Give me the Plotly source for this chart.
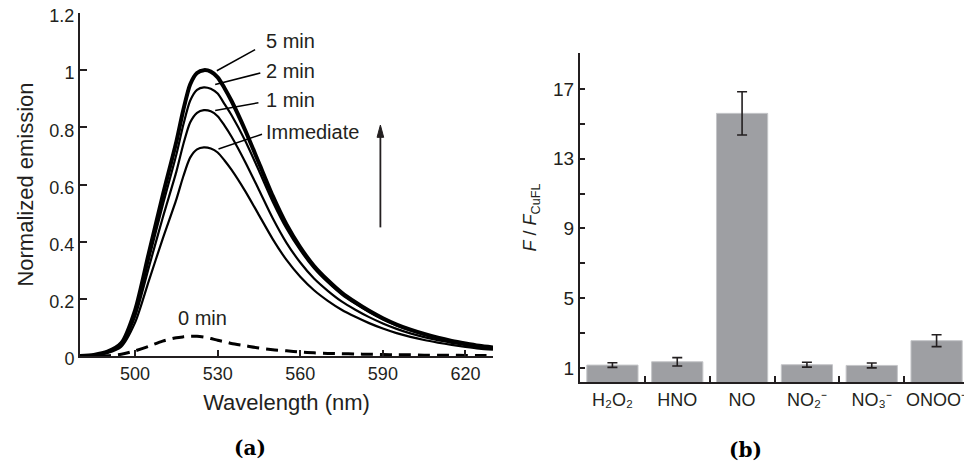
import plotly.graph_objects as go

# ---------------- data: panel (a) ----------------
wavelength = [480, 485, 490, 495, 500, 505, 510, 515, 517.5, 520, 522.5, 525, 527.5, 530, 532.5,
              535, 540, 545, 550, 555, 560, 565, 570, 575, 580, 585, 590, 595, 600, 605, 610,
              615, 620, 625, 630]
em_5min = [0.000, 0.004, 0.015, 0.045, 0.160, 0.360, 0.560, 0.750, 0.860, 0.950, 0.990, 1.000,
           0.995, 0.975, 0.937, 0.893, 0.790, 0.675, 0.560, 0.460, 0.380, 0.315, 0.265, 0.222,
           0.188, 0.158, 0.132, 0.110, 0.092, 0.077, 0.064, 0.053, 0.044, 0.036, 0.030]
em_2min = [0.000, 0.004, 0.014, 0.042, 0.150, 0.338, 0.526, 0.705, 0.808, 0.893, 0.931, 0.940,
           0.935, 0.918, 0.881, 0.843, 0.753, 0.648, 0.540, 0.446, 0.370, 0.307, 0.258, 0.216,
           0.183, 0.154, 0.128, 0.107, 0.089, 0.075, 0.062, 0.051, 0.042, 0.035, 0.029]
em_1min = [0.000, 0.003, 0.013, 0.039, 0.138, 0.310, 0.482, 0.645, 0.740, 0.817, 0.851, 0.860,
           0.856, 0.839, 0.806, 0.768, 0.679, 0.581, 0.482, 0.396, 0.327, 0.271, 0.228, 0.191,
           0.162, 0.136, 0.114, 0.095, 0.079, 0.066, 0.055, 0.046, 0.038, 0.031, 0.026]
em_immediate = [0.000, 0.003, 0.011, 0.033, 0.117, 0.263, 0.409, 0.548, 0.628, 0.694, 0.723, 0.730,
                0.726, 0.712, 0.684, 0.652, 0.577, 0.493, 0.409, 0.336, 0.277, 0.230, 0.193, 0.162,
                0.137, 0.115, 0.096, 0.080, 0.067, 0.056, 0.047, 0.039, 0.032, 0.026, 0.022]
em_0min = [0.000, 0.000, 0.001, 0.006, 0.018, 0.034, 0.052, 0.064, 0.067, 0.069, 0.069, 0.066,
           0.061, 0.055, 0.050, 0.044, 0.036, 0.028, 0.022, 0.018, 0.014, 0.011, 0.009, 0.008,
           0.007, 0.006, 0.005, 0.004, 0.004, 0.003, 0.003, 0.003, 0.002, 0.002, 0.002]
curve_labels = ["5 min", "2 min", "1 min", "Immediate"]
x_ticks_a = [500, 530, 560, 590, 620]
y_ticks_a = [0, 0.2, 0.4, 0.6, 0.8, 1.0, 1.2]
y_ticktext_a = ["0", "0.2", "0.4", "0.6", "0.8", "1", "1.2"]

# ---------------- data: panel (b) ----------------
analytes = ["H\u2082O\u2082", "HNO", "NO", "NO\u2082\u207b", "NO\u2083\u207b", "ONOO\u207b"]
ratio = [1.17, 1.36, 15.6, 1.19, 1.15, 2.57]
ratio_err = [0.13, 0.24, 1.24, 0.14, 0.14, 0.34]
y_ticks_b = [1, 5, 9, 13, 17]
y_minor_b = [3, 7, 11, 15]

INK = "#231f20"
FONT = "Liberation Sans, Arial, Helvetica, sans-serif"
OFF = 8  # default page body margin of the written html

# plot area in page pixels: x 80..969, y 13..382
PW, PH = 889, 369

fig = go.Figure()

for vals, w in [(em_immediate, 2.2), (em_1min, 2.2), (em_2min, 2.2), (em_5min, 4.0)]:
    fig.add_trace(go.Scatter(x=wavelength, y=vals, mode="lines",
                             line=dict(color="black", width=w, shape="spline", smoothing=0.7),
                             xaxis="x", yaxis="y", showlegend=False))
fig.add_trace(go.Scatter(x=wavelength, y=em_0min, mode="lines",
                         line=dict(color="black", width=3, dash="12px,7px", shape="spline", smoothing=0.7),
                         xaxis="x", yaxis="y", showlegend=False))

fig.add_trace(go.Bar(x=analytes, y=ratio, marker=dict(color="#9e9fa3", line=dict(color="#c4c5c8", width=1)),
                     error_y=dict(type="data", array=ratio_err, color=INK, thickness=1.6, width=5),
                     xaxis="x2", yaxis="y2", showlegend=False))

leaders = [((529.7, 0.998), (543.6, 1.072), 1.101),
           ((529.1, 0.950), (545.5, 0.990), 0.997),
           ((529.1, 0.859), (544.8, 0.886), 0.895),
           ((530.3, 0.724), (546.1, 0.776), 0.784)]
annotations = []
shapes = []
for lab, (p0, p1, ty) in zip(curve_labels, leaders):
    shapes.append(dict(type="line", xref="x", yref="y", x0=p0[0], y0=p0[1], x1=p1[0], y1=p1[1],
                       line=dict(color="black", width=1.5)))
    annotations.append(dict(x=546.8, y=ty, xref="x", yref="y", text=lab, showarrow=False,
                            xanchor="left", yanchor="middle", font=dict(size=20, color=INK)))
annotations.append(dict(x=524.6, y=0.132, xref="x", yref="y", text="0 min", showarrow=False,
                        xanchor="center", yanchor="middle", font=dict(size=20, color=INK)))
# upward trend arrow
shapes.append(dict(type="line", xref="x", yref="y", x0=589.1, y0=0.45, x1=589.1, y1=0.77,
                   line=dict(color=INK, width=1.8)))
shapes.append(dict(type="path", xref="x", yref="y",
                   path="M 587.9 0.765 L 590.3 0.765 L 589.1 0.808 Z",
                   fillcolor=INK, line=dict(color=INK, width=1)))
annotations.append(dict(x=(250 - 80) / PW, y=(382 - 448) / PH, xref="paper", yref="paper",
                        text="<b>(a)</b>", showarrow=False, xanchor="center", yanchor="middle",
                        font=dict(size=20, color="black", family="DejaVu Serif, Liberation Serif, serif")))
annotations.append(dict(x=(745 - 80) / PW, y=(382 - 450) / PH, xref="paper", yref="paper",
                        text="<b>(b)</b>", showarrow=False, xanchor="center", yanchor="middle",
                        font=dict(size=20, color="black", family="DejaVu Serif, Liberation Serif, serif")))

axis_common = dict(showline=True, linecolor=INK, linewidth=2, showgrid=False, zeroline=False,
                   ticks="inside", tickcolor=INK, tickwidth=2, mirror=False, automargin=False,
                   ticklabeloverflow="allow")

fig.update_layout(
    width=972 - OFF, height=469 - 2 * OFF,
    margin=dict(l=80 - OFF, r=3, t=13 - OFF, b=(469 - 2 * OFF) - (382 - OFF)),
    paper_bgcolor="white", plot_bgcolor="white",
    font=dict(family=FONT, color=INK),
    bargap=0.21,
    xaxis=dict(domain=[0, (493 - 80) / PW], range=[480, 630], tickvals=x_ticks_a, ticklen=6,
               tickfont=dict(size=18, color=INK),
               title=dict(text="Wavelength (nm)", font=dict(size=22, color=INK), standoff=12),
               anchor="y", **axis_common),
    yaxis=dict(domain=[(382 - 356) / PH, 1], range=[0, 1.2], tickvals=y_ticks_a,
               ticktext=y_ticktext_a, ticklen=7, ticklabelshift=3,
               tickfont=dict(size=18, color=INK),
               title=dict(text="Normalized emission", font=dict(size=22, color=INK), standoff=10),
               anchor="x", **axis_common),
    xaxis2=dict(domain=[(580 - 80) / PW, 1], range=[-0.5, 5.5], type="category",
                tickson="boundaries", ticklen=6, tickangle=0,
                tickfont=dict(size=18, color=INK), anchor="y2", **axis_common),
    yaxis2=dict(domain=[0, (382 - 53) / PH], range=[0.2, 19.06], tickvals=y_ticks_b, ticklen=5,
                tickfont=dict(size=19, color=INK),
                minor=dict(tickvals=y_minor_b, ticks="inside", ticklen=5, tickcolor=INK, tickwidth=2),
                title=dict(text="<i>F</i> / <i>F</i><sub>CuFL</sub>", font=dict(size=18, color=INK), standoff=12),
                anchor="x2", **axis_common),
    annotations=annotations,
    shapes=shapes,
)

fig.write_html("out.html")
